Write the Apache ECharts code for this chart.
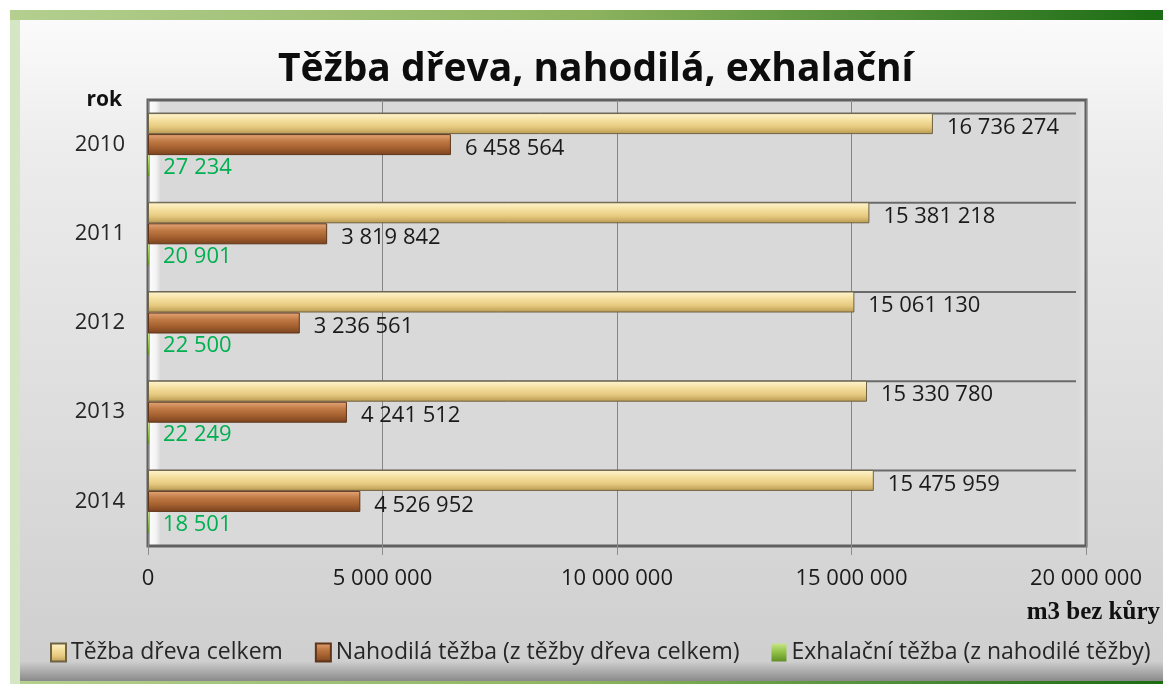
<!DOCTYPE html>
<html>
<head>
<meta charset="utf-8">
<title>Těžba dřeva, nahodilá, exhalační</title>
<script src="https://cdn.jsdelivr.net/npm/echarts@6/dist/echarts.min.js"></script>
<style>
  html, body { margin: 0; padding: 0; background: #fff; }
  #frame {
    position: absolute; left: 10px; top: 10px; width: 1153px; height: 674px;
    background: linear-gradient(to right, #b4cf8f, #8db35f 50%, #1b6c14);
  }
  #panel {
    position: absolute; left: 10px; top: 10px; right: 0; bottom: 3px;
    background: linear-gradient(to bottom, #fbfbfb 0%, #ececec 20%, #d6d6d6 80%, #cfcfcf 97%, #8a8a8a 100%);
  }
  #frame::before {
    content: ''; position: absolute; left: 0; top: 10px; width: 10px; bottom: 0;
    background: #d4e6c4;
  }
  #chart { position: absolute; left: 0; top: 0; width: 1163px; height: 684px; }
</style>
</head>
<body>
<div id="frame"><div id="panel"></div></div>
<div id="chart"></div>
<script>
const years = ['2010', '2011', '2012', '2013', '2014'];
const tezbaCelkem = [16736274, 15381218, 15061130, 15330780, 15475959];
const nahodila = [6458564, 3819842, 3236561, 4241512, 4526952];
const exhalacni = [27234, 20901, 22500, 22249, 18501];
const seriesNames = [
  'Těžba dřeva celkem',
  'Nahodilá těžba (z těžby dřeva celkem)',
  'Exhalační těžba (z nahodilé těžby)'
];

const font = '"Open Sans", Lato, sans-serif';
const fmt = v => String(v).replace(/\B(?=(\d{3})+(?!\d))/g, ' ');

function vGrad(stops) {
  return new echarts.graphic.LinearGradient(0, 0, 0, 1,
    stops.map((c, i) => ({ offset: i / (stops.length - 1), color: c })));
}

const cream = vGrad(['#fff6d2', '#f5e0a0', '#e6c97f', '#b8984f']);
const copper = vGrad(['#e6a77a', '#c07a45', '#a35f2e', '#7a4220']);
const green = vGrad(['#c6e58a', '#8fc043', '#5f8f24']);

const chart = echarts.init(document.getElementById('chart'));

const labelBase = {
  show: true,
  position: 'right',
  distance: 14,
  offset: [0, 4],
  fontFamily: font,
  fontSize: 22,
  color: '#1a1a1a',
  formatter: p => fmt(p.value)
};

chart.setOption({
  backgroundColor: 'transparent',
  title: {
    text: 'Těžba dřeva, nahodilá, exhalační',
    left: 273,
    top: 45,
    textStyle: { fontFamily: font, fontWeight: 'bold', fontSize: 39, color: '#0d0d0d' }
  },
  legend: {
    left: 45,
    top: 636,
    itemGap: 32,
    itemWidth: 15,
    itemHeight: 18,
    icon: 'rect',
    textStyle: { fontFamily: font, fontSize: 23, color: '#262626' },
    data: seriesNames
  },
  grid: {
    left: 148,
    right: 76,
    top: 100,
    bottom: 138,
    show: true,
    borderColor: '#606060',
    borderWidth: 3,
    backgroundColor: new echarts.graphic.LinearGradient(1, 0, 0, 0, [
      { offset: 0, color: '#e4e6e8' },
      { offset: 0.01, color: '#d9d9d9' },
      { offset: 0.985, color: '#d9d9d9' },
      { offset: 0.99, color: '#f4f4f4' },
      { offset: 1, color: '#ffffff' }
    ])
  },
  xAxis: {
    type: 'value',
    min: 0,
    max: 20000000,
    interval: 5000000,
    name: 'm3 bez kůry',
    nameLocation: 'end',
    nameGap: 74,
    nameTextStyle: {
      fontFamily: '"Liberation Serif", serif',
      fontWeight: 'bold',
      fontSize: 25,
      color: '#111',
      align: 'right',
      verticalAlign: 'top',
      padding: [54, 0, 0, 0]
    },
    axisLine: { show: false },
    axisTick: { show: true, length: 9, lineStyle: { color: '#8c8c8c' } },
    axisLabel: { margin: 22, fontFamily: font, fontSize: 22, color: '#1a1a1a', formatter: fmt },
    splitLine: { show: true, lineStyle: { color: '#858585', width: 1 } }
  },
  yAxis: {
    type: 'category',
    inverse: true,
    data: years,
    name: 'rok',
    nameLocation: 'start',
    nameGap: 0,
    nameTextStyle: {
      fontFamily: font, fontWeight: 'bold', fontSize: 21, color: '#111',
      align: 'right', verticalAlign: 'middle', padding: [0, 26, 0, 0]
    },
    axisLine: { show: false },
    axisTick: { show: false },
    axisLabel: { margin: 23, padding: [7, 0, 0, 0], fontFamily: font, fontSize: 22, color: '#262626' }
  },
  series: [
    {
      // 3D-like row dividers along the top edge of each bar group
      type: 'custom',
      silent: true,
      z: 1,
      data: years.map((y, i) => i),
      renderItem: (params, api) => {
        const c = api.coord([0, api.value(0)]);
        const yLine = c[1] - 31;
        const cs = params.coordSys;
        return {
          type: 'line',
          shape: { x1: cs.x, y1: yLine, x2: cs.x + cs.width - 10, y2: yLine },
          style: { stroke: '#6a6a6a', lineWidth: 2 }
        };
      },
      encode: { y: 0 }
    },
    {
      name: seriesNames[0],
      type: 'bar',
      z: 3,
      barWidth: 21,
      barGap: '0%',
      data: tezbaCelkem,
      itemStyle: { color: cream, borderColor: '#6f6345', borderWidth: 1 },
      label: labelBase
    },
    {
      name: seriesNames[1],
      type: 'bar',
      z: 3,
      barWidth: 21,
      data: nahodila,
      itemStyle: { color: copper, borderColor: '#5e3518', borderWidth: 1 },
      label: labelBase
    },
    {
      name: seriesNames[2],
      type: 'bar',
      z: 3,
      barWidth: 21,
      data: exhalacni,
      itemStyle: { color: green, borderColor: '#4d7220', borderWidth: 0 },
      label: Object.assign({}, labelBase, { color: '#00b050', offset: [0, 2] })
    }
  ]
});
</script>
</body>
</html>
